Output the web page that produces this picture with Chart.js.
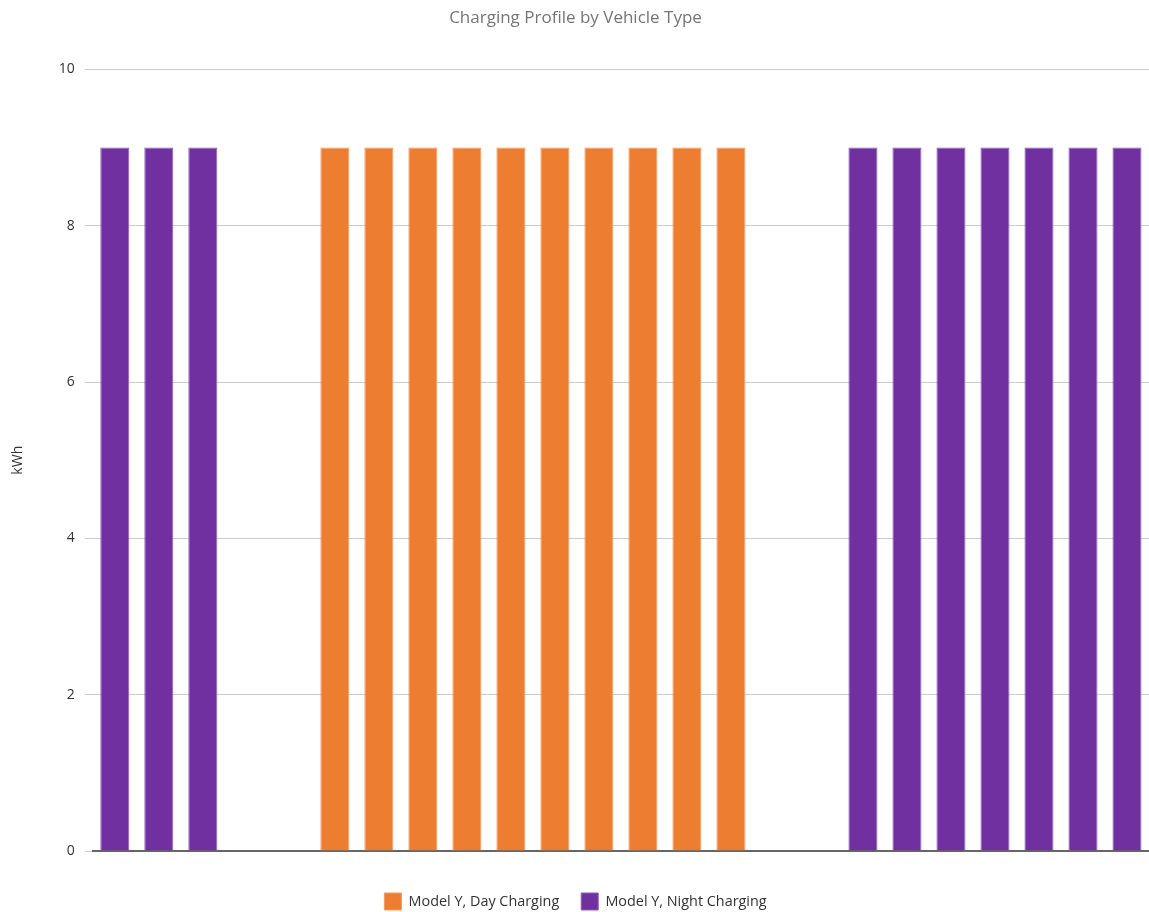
<!DOCTYPE html>
<html>
<head>
<meta charset="utf-8">
<title>Charging Profile by Vehicle Type</title>
<script src="https://cdn.jsdelivr.net/npm/chart.js@4/dist/chart.umd.min.js"></script>
<style>
  html, body { margin: 0; padding: 0; background: #ffffff; }
  #wrap { width: 1149px; height: 912px; }
</style>
</head>
<body>
<div id="wrap"><canvas id="grafica" width="1149" height="912"></canvas></div>
<script>
// Horas del día (no se muestran en el eje)
const horas = ['00', '01', '02', '03', '04', '05', '06', '07', '08', '09', '10', '11',
               '12', '13', '14', '15', '16', '17', '18', '19', '20', '21', '22', '23'];

// kWh por hora, null donde no hay carga
const cargaDia = [null, null, null, null, null, 9, 9, 9, 9, 9, 9, 9,
                  9, 9, 9, null, null, null, null, null, null, null, null, null];
const cargaNoche = [9, 9, 9, null, null, null, null, null, null, null, null, null,
                    null, null, null, null, null, 9, 9, 9, 9, 9, 9, 9];

const ticksY = [0, 2, 4, 6, 8, 10];

const fuente = '"Open Sans", "Noto Sans", sans-serif';

const ctx = document.getElementById('grafica');
const chart = new Chart(ctx, {
    type: 'bar',
    data: {
        labels: horas,
        datasets: [{
            label: 'Model Y, Day Charging',
            data: cargaDia,
            backgroundColor: '#ed7d31',
            borderColor: '#f29a5e',
            borderWidth: 1
        }, {
            label: 'Model Y, Night Charging',
            data: cargaNoche,
            backgroundColor: '#7030a0',
            borderColor: '#8f5cb8',
            borderWidth: 1
        }]
    },
    options: {
        responsive: false,
        animation: false,
        layout: {
            padding: { left: 2, right: 0, top: 0, bottom: -8 }
        },
        datasets: {
            bar: {
                barPercentage: 1,
                categoryPercentage: 0.66
            }
        },
        plugins: {
            title: {
                display: true,
                text: 'Charging Profile by Vehicle Type',
                color: '#757575',
                font: { family: fuente, size: 17, weight: 'normal' },
                padding: { top: 8, bottom: 41 }
            },
            legend: {
                position: 'bottom',
                labels: {
                    color: '#333333',
                    font: { family: fuente, size: 14.4 },
                    boxWidth: 17,
                    boxHeight: 17,
                    padding: 22
                }
            },
            tooltip: { enabled: false }
        },
        scales: {
            x: {
                stacked: true,
                ticks: { display: false },
                grid: { display: false },
                border: { color: '#666666', width: 2 },
                afterFit: (eje) => {
                    eje.height = 20;
                }
            },
            y: {
                stacked: true,
                min: 0,
                max: 10,
                afterBuildTicks: (eje) => {
                    eje.ticks = ticksY.map(v => ({ value: v }));
                },
                ticks: {
                    color: '#333333',
                    font: { family: fuente, size: 14 },
                    padding: 10
                },
                grid: {
                    color: '#cccccc',
                    tickLength: 8,
                    tickColor: '#cccccc'
                },
                border: { display: false },
                title: {
                    display: true,
                    text: 'kWh',
                    color: '#333333',
                    font: { family: fuente, size: 14 },
                    padding: { top: 8, bottom: 22 }
                }
            }
        }
    }
});
</script>
</body>
</html>
